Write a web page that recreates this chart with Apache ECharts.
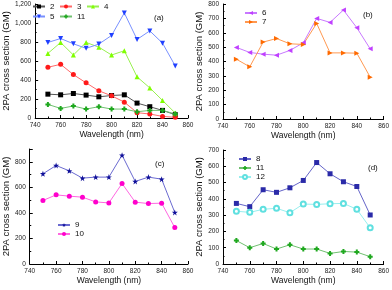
<!DOCTYPE html>
<html><head><meta charset="utf-8">
<script src="https://cdn.jsdelivr.net/npm/echarts@6/dist/echarts.min.js"></script>
<style>html,body{margin:0;padding:0;background:#fff}#c{width:392px;height:290px}</style>
</head><body><div id="c"></div>
<script>
const wavelengths = [750, 760, 770, 780, 790, 800, 810, 820, 830, 840, 850];
// panel (a)
const a2  = [251, 244, 258, 241, 223, 237, 244, 157, 119, 80, 35];
const a3  = [534, 565, 457, 370, 286, 234, 167, 56, 42, 17, 7];
const a4  = [680, 795, 663, 795, 746, 663, 708, 433, 317, 185, 52];
const a5  = [795, 837, 781, 733, 778, 869, 1106, 827, 917, 788, 548];
const a11 = [143, 101, 126, 94, 119, 94, 94, 66, 80, 80, 42];
// panel (b)
const b6 = [498, 463, 451, 444, 477, 530, 700, 672, 758, 635, 488];
const b7 = [416, 363, 535, 560, 523, 519, 665, 460, 460, 458, 291];
// panel (c)
const c9  = [706, 771, 729, 672, 680, 680, 852, 646, 680, 664, 403];
const c10 = [497, 541, 531, 523, 486, 478, 630, 484, 473, 476, 285];
// panel (d)
const d8  = [372, 352, 456, 440, 468, 513, 623, 554, 505, 476, 301];
const d11 = [144, 100, 126, 92, 118, 92, 92, 65, 77, 73, 45];
const d12 = [324, 317, 336, 342, 315, 368, 366, 370, 372, 336, 222];

const xTitle = 'Wavelength (nm)';
const yTitle = '2PA cross section (GM)';
const panelLabels = ['(a)', '(b)', '(c)', '(d)'];

const FONT = 'Liberation Sans, Arial, sans-serif';
const pts = arr => arr.map((v, i) => [wavelengths[i], v]);
const crossPath = 'path://M3,0H7V3H10V7H7V10H3V7H0V3H3Z';
const starPath = 'path://M50,0L61.8,35.1L97.6,35.1L68.8,57L79.4,91L50,70L20.6,91L31.2,57L2.4,35.1L38.2,35.1Z';

const grids = [
  {left: 27, top: 4, width: 161, height: 114},
  {left: 223, top: 4, width: 161, height: 115},
  {left: 27, top: 149, width: 161, height: 115},
  {left: 223, top: 150, width: 161, height: 114}
];
const yRanges = [[0, 1200, 200], [0, 800, 100], [0, 900, 200], [0, 700, 100]];

const axisCommon = {
  axisLine: {show: true, onZero: false, lineStyle: {color: '#000', width: 1}},
  axisTick: {show: true, inside: true, length: 3, lineStyle: {color: '#000'}},
  minorTick: {show: true, splitNumber: 2, length: 1.5, lineStyle: {color: '#000'}},
  splitLine: {show: false},
  axisLabel: {fontFamily: FONT, fontSize: 6.5, color: '#222', margin: 4}
};

const xAxis = grids.map((g, i) => Object.assign({}, axisCommon, {
  type: 'value', gridIndex: i, min: 740, max: 860, interval: 20,
  name: xTitle, nameLocation: 'middle', nameGap: 12,
  nameTextStyle: {fontFamily: FONT, fontSize: 8.5, color: '#111'}
}));
const yAxis = grids.map((g, i) => Object.assign({}, axisCommon, {
  type: 'value', gridIndex: i, min: yRanges[i][0], max: yRanges[i][1], interval: yRanges[i][2],
  name: yTitle, nameLocation: 'middle', nameGap: 15,
  nameTextStyle: {fontFamily: FONT, fontSize: 9.5, color: '#111'},
  axisLabel: Object.assign({}, axisCommon.axisLabel, {showMaxLabel: i !== 2})
}));

function ser(name, data, idx, sym, color, lineColor, opts) {
  return Object.assign({
    name: name, type: 'line', xAxisIndex: idx, yAxisIndex: idx,
    data: pts(data), symbol: sym, symbolSize: 5, showSymbol: true,
    itemStyle: {color: color}, lineStyle: {color: lineColor, width: 1},
    animation: false
  }, opts || {});
}

const series = [
  ser('2', a2, 0, 'rect', '#000000', '#555555'),
  ser('3', a3, 0, 'circle', '#ff1a1a', '#ff6a6a'),
  ser('4', a4, 0, 'triangle', '#80ff00', '#98f050'),
  ser('5', a5, 0, 'triangle', '#2040ff', '#7890ff', {symbolRotate: 180}),
  ser('11', a11, 0, crossPath, '#1fa81f', '#70c070'),
  ser('6', b6, 1, 'triangle', '#c040ff', '#c878ff', {symbolRotate: 90}),
  ser('7', b7, 1, 'triangle', '#ff6a00', '#ff9850', {symbolRotate: -90}),
  ser('9', c9, 2, starPath, '#10109a', '#6a6ad0', {symbolSize: 6}),
  ser('10', c10, 2, 'circle', '#ff00cc', '#ff66e0'),
  ser('8', d8, 3, 'rect', '#2a2aa8', '#6464c8'),
  ser('11 ', d11, 3, crossPath, '#1fa81f', '#70c070'),
  ser('12', d12, 3, 'emptyCircle', '#60e0e0', '#96eeee')
];

function legend(names, left, top, gap) {
  return {
    data: names.map(n => n === '12'
      ? {name: n, itemStyle: {borderWidth: 1}}
      : {name: n}),
    left: left, top: top, orient: 'vertical', padding: 0,
    itemWidth: 12, itemHeight: 5, itemGap: gap,
    itemStyle: {borderWidth: 0},
    textStyle: {fontFamily: FONT, fontSize: 8, lineHeight: 9, color: '#111'},
    formatter: n => n.trim(), selectedMode: false
  };
}
const legends = [
  legend(['2', '5'], 32, 2, 1),
  legend(['3', '11'], 59, 2, 1),
  legend(['4'], 86, 2, 1),
  legend(['6', '7'], 244, 8.5, 0),
  legend(['9', '10'], 57, 220.5, 0),
  legend(['8', '11 ', '12'], 238, 154.5, 0)
];

const labelPos = [[160, 19], [369, 16], [161, 165], [374, 169]];
const graphic = panelLabels.map((t, i) => ({
  type: 'text', left: labelPos[i][0] - 6, top: labelPos[i][1] - 5,
  style: {text: t, fontFamily: FONT, fontSize: 8, fill: '#111'}
}));

const chart = echarts.init(document.getElementById('c'), null, {renderer: 'canvas'});
chart.setOption({
  animation: false,
  grid: grids, xAxis: xAxis, yAxis: yAxis, series: series,
  legend: legends, graphic: graphic
});
</script></body></html>
